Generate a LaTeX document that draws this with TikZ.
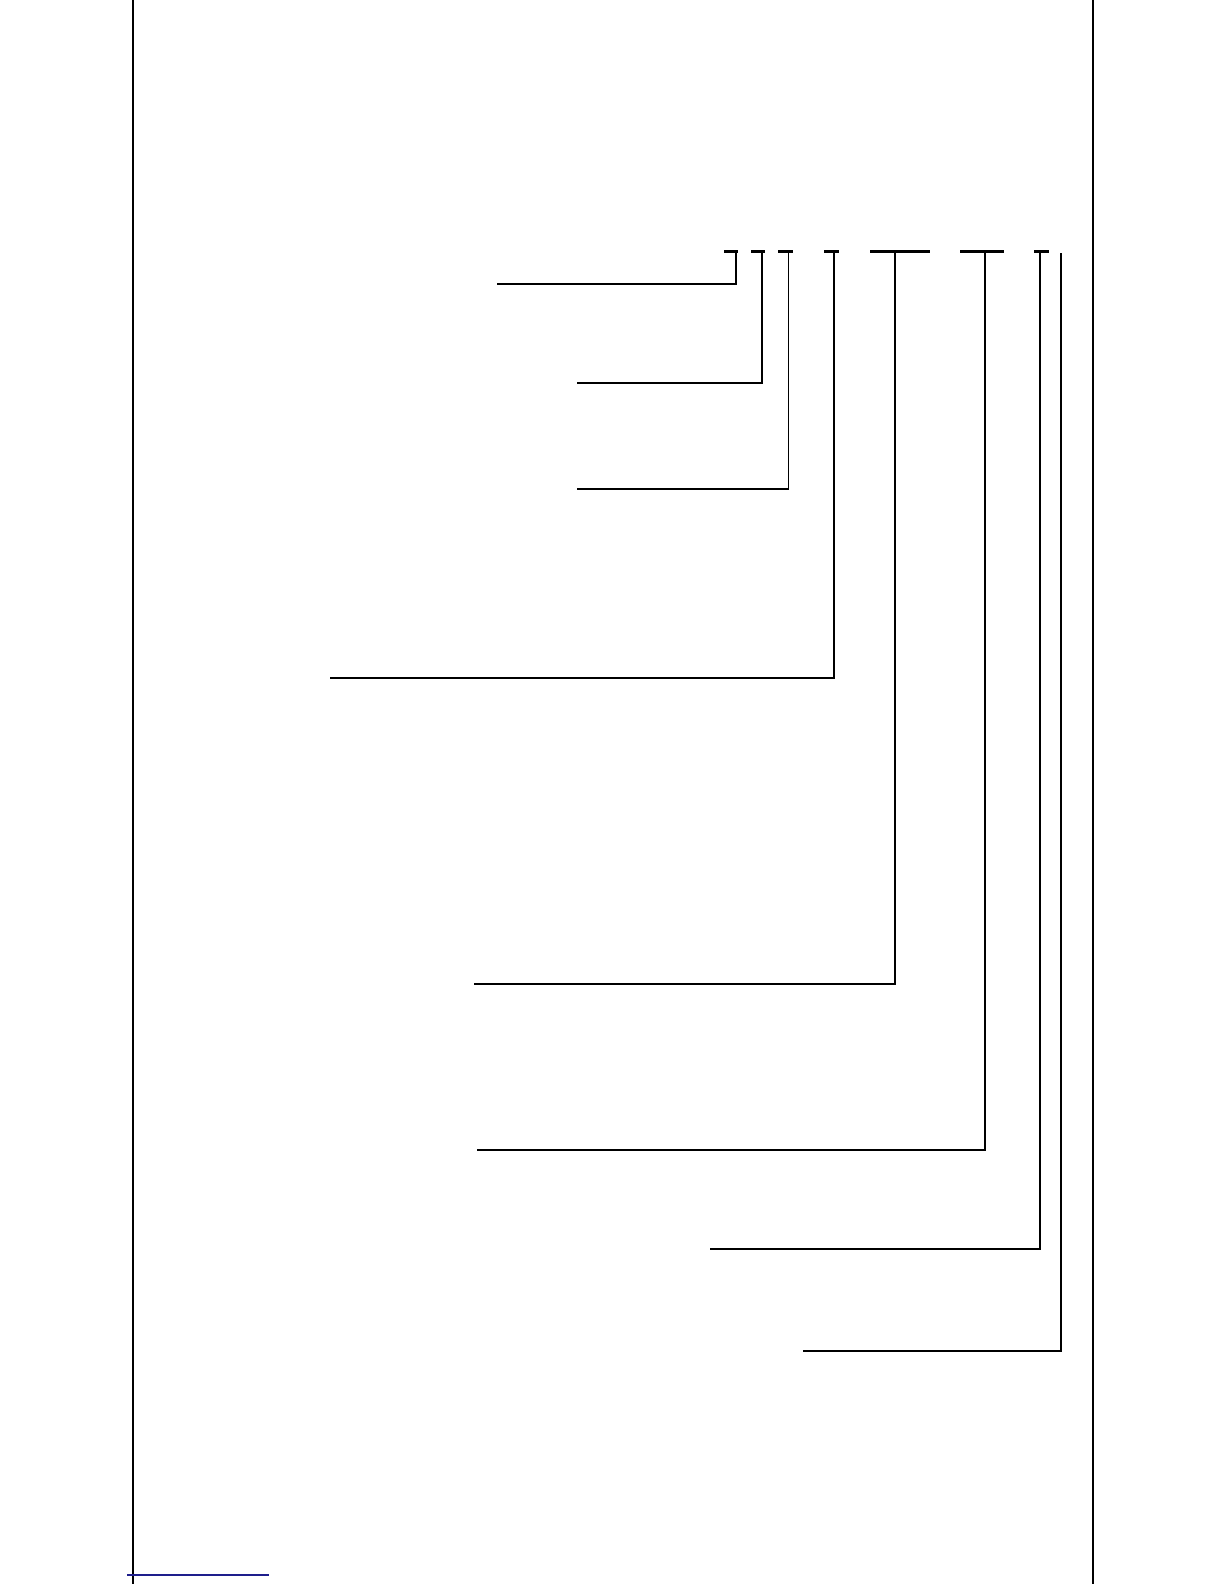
\documentclass[tikz,border=0pt]{standalone}
\definecolor{navyline}{RGB}{30,30,140}
\tikzset{
  frame/.style={line width=1.1bp},
  bar/.style={line width=1.5bp},
  lead/.style={line width=0.95bp},
  leadthin/.style={line width=0.7bp},
}
\begin{document}
\begin{tikzpicture}[x=0.5bp,y=-0.5bp]
\useasboundingbox[fill=white] (0,0) rectangle (1224,1584);
% frame lines
\draw[frame] (133,0) -- (133,1584);
\draw[frame] (1093,0) -- (1093,1584);
\draw[navyline,line width=1bp] (127,1575) -- (269,1575);
% bars
\foreach \a/\b in {724/738, 751/765, 778/793, 824/839, 870/930, 960/1004, 1034/1049}
  \draw[bar] (\a,251) -- (\b,251);
% leaders
\coordinate (t1) at (736,251);  \coordinate (e1) at (497,284);
\coordinate (t2) at (762,251);  \coordinate (e2) at (577,383);
\coordinate (t3) at (788.5,251);\coordinate (e3) at (577,489);
\coordinate (t4) at (834,251);  \coordinate (e4) at (330,678);
\coordinate (t5) at (895,251);  \coordinate (e5) at (474,984);
\coordinate (t6) at (985,251);  \coordinate (e6) at (477,1150);
\coordinate (t7) at (1040,251); \coordinate (e7) at (710,1249);
\coordinate (t8) at (1061,253); \coordinate (e8) at (803,1351);
\draw[lead] (t1) |- (e1);
\draw[lead] (t2) |- (e2);
\draw[leadthin] (t3) |- (e3);
\draw[lead] (t4) |- (e4);
\draw[lead] (t5) |- (e5);
\draw[lead] (t6) |- (e6);
\draw[lead] (t7) |- (e7);
\draw[leadthin] (t8) |- (e8);
\end{tikzpicture}
\end{document}
